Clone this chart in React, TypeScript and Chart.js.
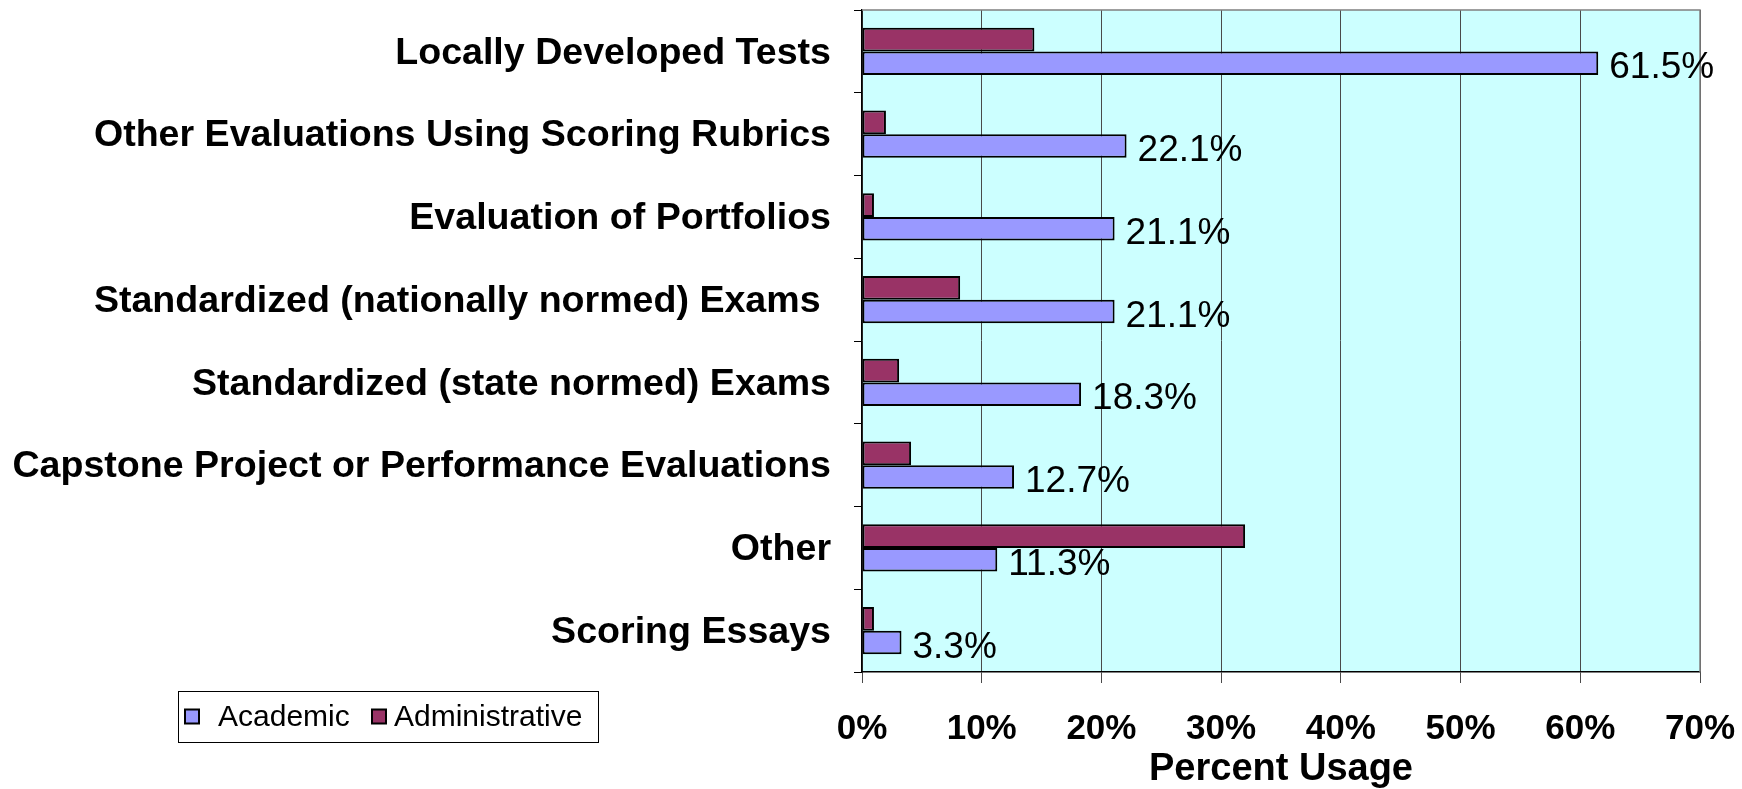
import React, { useEffect, useRef } from "react";
import { Chart, registerables } from "chart.js";

Chart.register(...registerables);

const categories = [
  "Locally Developed Tests",
  "Other Evaluations Using Scoring Rubrics",
  "Evaluation of Portfolios",
  "Standardized (nationally normed) Exams ",
  "Standardized (state normed) Exams",
  "Capstone Project or Performance Evaluations",
  "Other",
  "Scoring Essays",
];

const academic = [61.5, 22.1, 21.1, 21.1, 18.3, 12.7, 11.3, 3.3];
const administrative = [14.4, 2.0, 1.0, 8.2, 3.1, 4.1, 32.0, 1.0];

const seriesNames = ["Academic", "Administrative"];
const xTickValues = [0, 10, 20, 30, 40, 50, 60, 70];
const axisTitle = "Percent Usage";

const FONT = "'Liberation Sans', Arial, sans-serif";
const ACADEMIC_COLOR = "#9999FF";
const ADMIN_COLOR = "#993366";

const plotFramePlugin = {
  id: "plotFrame",
  beforeDraw(chart: any) {
    const { ctx, chartArea: a } = chart;
    ctx.save();
    ctx.fillStyle = "#CCFFFF";
    ctx.fillRect(a.left, a.top, a.right - a.left, a.bottom - a.top);
    ctx.restore();
  },
  beforeDatasetsDraw(chart: any) {
    const { ctx, chartArea: a } = chart;
    ctx.save();
    ctx.strokeStyle = "#808080";
    ctx.lineWidth = 1.5;
    ctx.beginPath();
    ctx.moveTo(a.left, a.top);
    ctx.lineTo(a.right, a.top);
    ctx.lineTo(a.right, a.bottom);
    ctx.stroke();
    ctx.restore();
  },
};

const valueLabelPlugin = {
  id: "valueLabels",
  afterDatasetDraw(chart: any, args: any) {
    if (args.index !== 1) return;
    const { ctx } = chart;
    const meta = chart.getDatasetMeta(1);
    const data = chart.data.datasets[1].data;
    ctx.save();
    ctx.font = `37px ${FONT}`;
    ctx.fillStyle = "#000";
    ctx.textAlign = "left";
    ctx.textBaseline = "middle";
    meta.data.forEach((el: any, i: number) => {
      ctx.fillText(`${Number(data[i]).toFixed(1)}%`, el.x + 11, el.y + 5);
    });
    ctx.restore();
  },
};

const legendBoxPlugin = {
  id: "legendBox",
  afterDraw(chart: any) {
    const { ctx } = chart;
    const x = 178, y = 691, w = 420, h = 51;
    ctx.save();
    ctx.fillStyle = "#fff";
    ctx.fillRect(x, y, w, h);
    ctx.strokeStyle = "#000";
    ctx.lineWidth = 1;
    ctx.strokeRect(x + 0.5, y + 0.5, w, h);
    ctx.font = `30px ${FONT}`;
    ctx.textBaseline = "middle";
    ctx.textAlign = "left";
    const cy = y + h / 2;
    const order = [1, 0];
    const entries = [
      { sx: 185, tx: 218 },
      { sx: 372, tx: 394 },
    ];
    order.forEach((dsIndex, k) => {
      const ds = chart.data.datasets[dsIndex];
      const e = entries[k];
      ctx.fillStyle = ds.backgroundColor;
      ctx.fillRect(e.sx, cy - 7, 14, 14);
      ctx.strokeStyle = "#000";
      ctx.lineWidth = 2;
      ctx.strokeRect(e.sx, cy - 7, 14, 14);
      ctx.fillStyle = "#000";
      ctx.fillText(ds.label, e.tx, cy + 1);
    });
    ctx.restore();
  },
};

export default function App() {
  const canvasRef = useRef<HTMLCanvasElement | null>(null);

  useEffect(() => {
    const canvas = canvasRef.current;
    if (!canvas) return;
    const chart = new Chart(canvas, {
      type: "bar",
      data: {
        labels: categories,
        datasets: [
          {
            label: seriesNames[1],
            data: administrative,
            backgroundColor: ADMIN_COLOR,
            borderColor: "#000",
            borderWidth: 2,
            borderSkipped: false,
            barPercentage: 1,
            categoryPercentage: 0.573,
          },
          {
            label: seriesNames[0],
            data: academic,
            backgroundColor: ACADEMIC_COLOR,
            borderColor: "#000",
            borderWidth: 2,
            borderSkipped: false,
            barPercentage: 1,
            categoryPercentage: 0.573,
          },
        ],
      },
      options: {
        indexAxis: "y",
        responsive: false,
        animation: false,
        layout: { padding: { left: 0, top: 10, right: 42, bottom: 0 } },
        plugins: {
          legend: { display: false },
          tooltip: { enabled: false },
        },
        scales: {
          x: {
            type: "linear",
            min: 0,
            max: 70,
            afterBuildTicks(scale: any) {
              scale.ticks = xTickValues.map((v) => ({ value: v }));
            },
            afterFit(scale: any) {
              scale.height = 117;
              scale.paddingLeft = 0;
              scale.paddingRight = 0;
            },
            ticks: {
              callback: (v: any) => `${v}%`,
              color: "#000",
              padding: 25,
              maxRotation: 0,
              font: { family: FONT, size: 35, weight: "bold" },
            },
            grid: {
              color: "#4a4a4a",
              lineWidth: 1,
              tickLength: 11,
              drawTicks: true,
            },
            border: { display: true, color: "#000", width: 1.5 },
            title: {
              display: true,
              text: axisTitle,
              color: "#000",
              padding: 0,
              font: { family: FONT, size: 38, weight: "bold", lineHeight: 1 },
            },
          },
          y: {
            type: "category",
            afterFit(scale: any) {
              scale.width = 862;
              scale.paddingTop = 0;
              scale.paddingBottom = 0;
            },
            ticks: {
              color: "#000",
              padding: 23,
              autoSkip: false,
              labelOffset: 2,
              font: { family: FONT, size: 37.6, weight: "bold" },
            },
            grid: {
              drawOnChartArea: false,
              drawTicks: true,
              tickLength: 8,
              color: "#000",
              lineWidth: 1,
              offset: true,
            },
            border: { display: true, color: "#000", width: 1.5 },
          },
        },
      },
      plugins: [plotFramePlugin, valueLabelPlugin, legendBoxPlugin],
    });
    return () => chart.destroy();
  }, []);

  return (
    <div style={{ position: "absolute", left: 0, top: 0, width: 1742, height: 789, background: "#fff" }}>
      <canvas ref={canvasRef} width={1742} height={789} style={{ display: "block" }} />
    </div>
  );
}
